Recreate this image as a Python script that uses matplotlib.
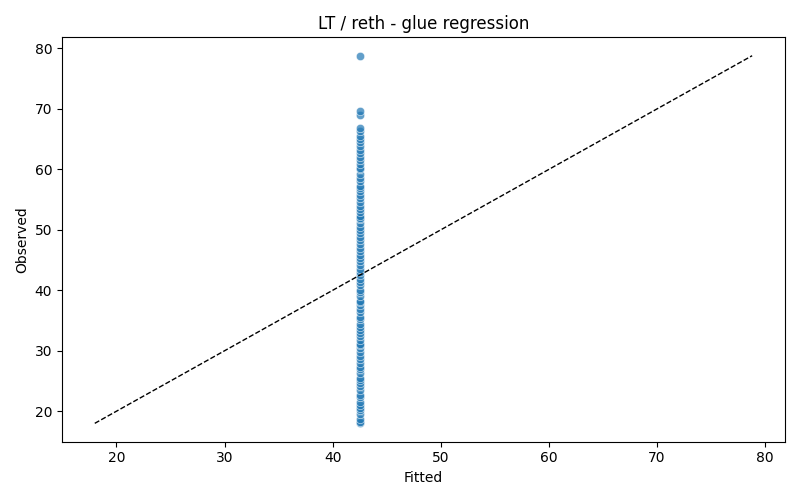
import numpy as np
import matplotlib
matplotlib.use('Agg')
from matplotlib import pyplot as plt
import seaborn as sns

fitted_value = 42.5
observed = [18.0, 18.3, 18.8, 19.5, 20.2, 20.5, 21.0, 21.5, 22.4, 22.7,
            23.5, 24.1, 24.6, 25.2, 25.5, 26.3, 27.0, 27.4, 28.0, 28.6,
            29.2, 29.8, 30.5, 31.0, 31.2, 31.8, 32.5, 33.0, 33.4, 34.0,
            34.5, 35.2, 35.6, 36.4, 36.9, 37.5, 38.0, 38.3, 39.0, 39.7,
            40.1, 40.8, 41.3, 41.9, 42.5, 43.0, 43.6, 44.2, 44.8, 45.3, 45.9,
            46.5, 47.0, 47.6, 48.3, 48.8, 49.4, 50.0, 50.5, 51.1, 51.8, 52.0,
            52.3, 52.9, 53.4, 54.0, 54.6, 55.2, 55.8, 56.4, 57.0, 57.3, 58.0,
            58.6, 59.2, 60.0, 60.2, 60.9, 61.6, 62.0, 62.7, 63.2, 63.8,
            64.5, 65.0, 65.6, 66.3, 66.9, 69.0, 69.7, 78.8]
fitted = [fitted_value] * len(observed)

fig, ax = plt.subplots(figsize=(8, 5), dpi=100)
sns.scatterplot(x=fitted, y=observed, alpha=0.7, ax=ax)
lo = min(min(observed), min(fitted))
hi = max(max(observed), max(fitted))
ax.plot([lo, hi], [lo, hi], 'k--', linewidth=1)
ax.set_title('LT / reth - glue regression')
ax.set_xlabel('Fitted')
ax.set_ylabel('Observed')
plt.tight_layout()
plt.savefig('out.png')
